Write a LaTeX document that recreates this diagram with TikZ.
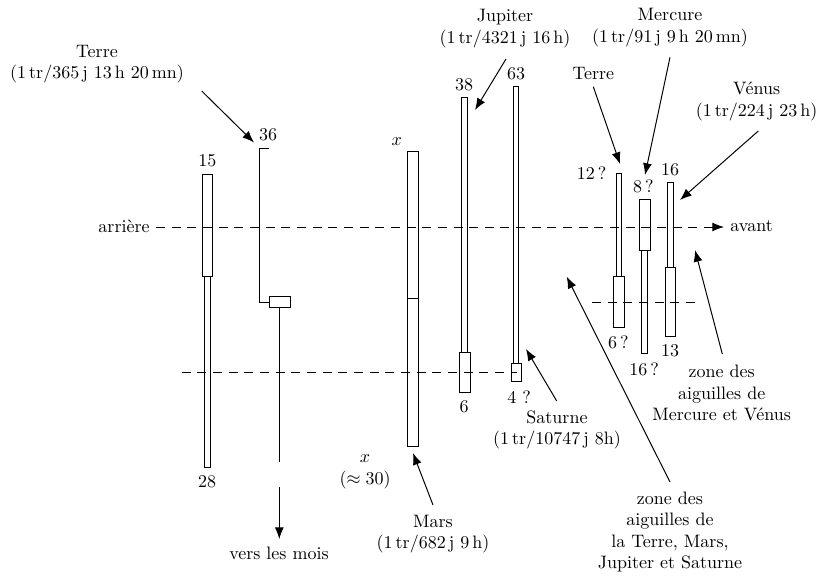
\documentclass[tikz,border=0pt]{standalone}
\usetikzlibrary{arrows.meta}
\begin{document}
\begin{tikzpicture}[x=0.5556pt,y=-0.5556pt,
  lbl/.style={inner sep=0pt,align=center},
  arr/.style={-{Latex[length=6.5pt,width=5pt]}},
  wheel/.style={line width=0.55pt},
  dsh/.style={line width=0.55pt,dash pattern=on 5pt off 3.7pt}]
\useasboundingbox (0,0) rectangle (820,575);

% ---- columns (axes / wheels)
\draw[wheel] (202.3,174) rectangle (212.7,276);
\draw[wheel] (204.3,276) rectangle (210,467);
\draw[wheel] (269,148) -- (259,148) -- (259,302) -- (269,302);
\draw[wheel] (269,296.7) rectangle (290,307.3);
\draw[wheel] (279.3,307.3) -- (279.3,462);
\draw[wheel] (407.7,151) rectangle (418.3,298.3);
\draw[wheel] (407.7,298.3) rectangle (418.3,446);
\draw[wheel] (461.7,97.7) rectangle (467.3,352.3);
\draw[wheel] (459.3,352.3) rectangle (470,392.7);
\draw[wheel] (513.3,86.7) rectangle (518.3,363.3);
\draw[wheel] (511,363.3) rectangle (521,381);
\draw[wheel] (616,173.3) rectangle (621.5,276.7);
\draw[wheel] (613.3,276.7) rectangle (624.3,327.3);
\draw[wheel] (639,199.3) rectangle (650,250.7);
\draw[wheel] (641.7,250.7) rectangle (647.7,353.3);
\draw[wheel] (667.7,182.3) rectangle (673.3,267.3);
\draw[wheel] (665,267.3) rectangle (675.7,336.7);

% ---- labels
\node[lbl] (terreL) at (97,64) {Terre\\(1\,tr/365\,j 13\,h 20\,mn)};
\node[lbl] (n36) at (268,135) {36};
\node[lbl] (n15) at (207.3,160.7) {15};
\node[lbl,anchor=east] (arriere) at (150,226) {arri\`ere};
\node[lbl] (n28) at (207,482) {28};
\node[lbl] (xtop) at (396.7,141.7) {$x$};
\node[lbl] (xbot) at (365,472) {$x$\\$(\approx 30)$};
\node[lbl] (mars) at (433,534) {Mars\\(1\,tr/682\,j 9\,h)};
\node[lbl] (n38) at (464,85) {38};
\node[lbl] (n6) at (464,407) {6};
\node[lbl] (n63) at (516,74) {63};
\node[lbl] (n4) at (519,397) {4 ?};
\node[lbl] (saturne) at (557,430) {Saturne\\(1\,tr/10747\,j 8h)};
\node[lbl] (jupiter) at (505,28.5) {Jupiter\\(1\,tr/4321\,j 16\,h)};
\node[lbl] (terreR) at (593.3,74) {Terre};
\node[lbl] (n12) at (591.7,173.3) {12\,?};
\node[lbl] (n6q) at (618.3,342) {6\,?};
\node[lbl] (mercure) at (670,27.5) {Mercure\\(1\,tr/91\,j 9\,h 20\,mn)};
\node[lbl] (n8) at (643.3,186.7) {8\,?};
\node[lbl] (n16q) at (644,369) {16\,?};
\node[lbl] (venus) at (756.7,101.2) {V\'enus\\(1\,tr/224\,j 23\,h)};
\node[lbl] (n16) at (670,170) {16};
\node[lbl] (n13) at (670,350.7) {13};
\node[lbl,anchor=west] (avant) at (730,226) {avant};
\node[lbl] (zoneMV) at (721.7,393) {zone des\\aiguilles de\\Mercure et V\'enus};
\node[lbl] (zoneT) at (670,532) {zone des\\aiguilles de\\la Terre, Mars,\\Jupiter et Saturne};
\node[lbl] (mois) at (279,553.3) {vers les mois};

% ---- arrow end points
\coordinate (tTerreL) at (254,142.5);
\coordinate (sTerreL) at (201.7,91);
\coordinate (tJup) at (475,110);
\coordinate (sJup) at (506,59);
\coordinate (tSat) at (526,349);
\coordinate (sSat) at (556.7,401);
\coordinate (tMars) at (413,453);
\coordinate (sMars) at (433,505);
\coordinate (tTerreR) at (620,164);
\coordinate (sTerreR) at (593.3,86.7);
\coordinate (tMerc) at (645,175);
\coordinate (sMerc) at (670,57.3);
\coordinate (tVen) at (680,200);
\coordinate (sVen) at (758.3,131);
\coordinate (tZMV) at (695,250);
\coordinate (sZMV) at (722.3,354);
\coordinate (tZT) at (566.7,276.7);
\coordinate (sZT) at (670,482);
\coordinate (sMois) at (279.3,487);
\coordinate (tMois) at (279.3,539);
\coordinate (dA) at (156,227);
\coordinate (dB) at (724,227);
\coordinate (dC) at (181.7,372.5);
\coordinate (dD) at (517,372.5);
\coordinate (dE) at (592,302);
\coordinate (dF) at (695,302);

% ---- connectors
\draw[arr,wheel] (sTerreL) -- (tTerreL);
\draw[arr,wheel] (sJup) -- (tJup);
\draw[arr,wheel] (sSat) -- (tSat);
\draw[arr,wheel] (sMars) -- (tMars);
\draw[arr,wheel] (sTerreR) -- (tTerreR);
\draw[arr,wheel] (sMerc) -- (tMerc);
\draw[arr,wheel] (sVen) -- (tVen);
\draw[arr,wheel] (sZMV) -- (tZMV);
\draw[arr,wheel] (sZT) -- (tZT);
\draw[arr,wheel] (sMois) -- (tMois);

% ---- dashed planes
\draw[dsh,arr] (dA) -- (dB);
\draw[dsh] (dC) -- (dD);
\draw[dsh] (dE) -- (dF);
\end{tikzpicture}
\end{document}
